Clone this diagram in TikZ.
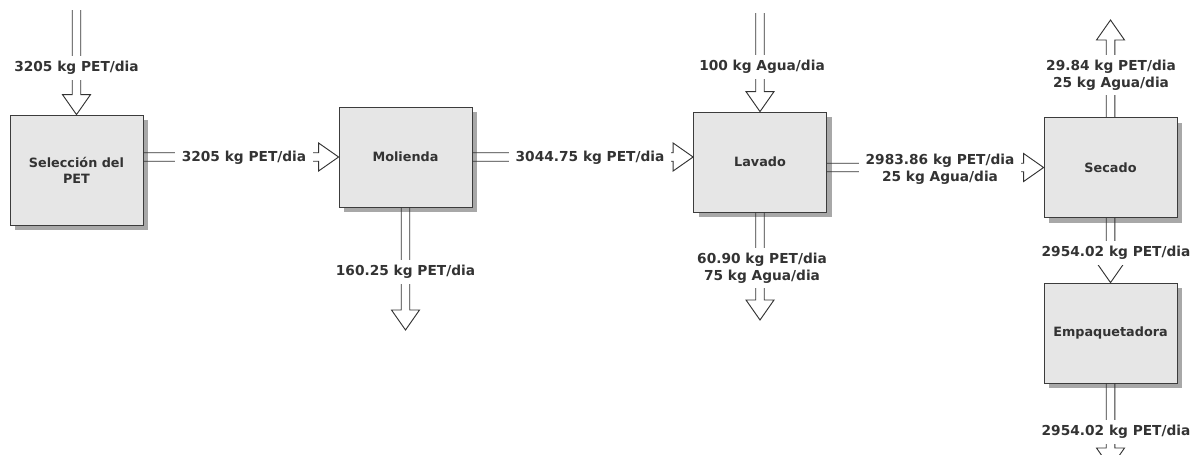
\documentclass[tikz,border=0pt]{standalone}
\usepackage{fontspec}
\setmainfont{DejaVu Sans}
\usetikzlibrary{calc,shadows}
\definecolor{ink}{HTML}{333333}
\definecolor{boxline}{HTML}{3C3C3C}
\definecolor{boxfill}{HTML}{E6E6E6}
\definecolor{shade}{HTML}{A8A8A8}
\tikzset{
  procbox/.style={draw=boxline, line width=0.6pt, fill=boxfill,
    minimum width=99.75pt, minimum height=75pt, inner sep=0pt, align=center,
    font=\fontsize{9.6}{12}\selectfont\bfseries, text=ink,
    drop shadow={shadow xshift=3.75pt, shadow yshift=-3.75pt, fill=shade, opacity=1}},
  flowline/.style={draw=ink, line width=0.7pt, line join=miter},
  flowlabel/.style={fill=white, text=ink, align=center,
    font=\fontsize{10.3}{12.5}\selectfont\bfseries, inner xsep=5pt, inner ysep=4pt},
}
\newcommand\flowarrow[2]{%
  \coordinate (fah) at ($(#2)!15pt!(#1)$);
  \draw[flowline] ($(#1)!3.2pt!90:(#2)$) -- ($(fah)!3.2pt!90:(#2)$) -- ($(fah)!10.5pt!90:(#2)$)
    -- (#2) -- ($(fah)!10.5pt!-90:(#2)$) -- ($(fah)!3.2pt!-90:(#2)$) -- ($(#1)!3.2pt!-90:(#2)$);
}
\begin{document}
\begin{tikzpicture}[x=0.75pt,y=-0.75pt]
\useasboundingbox (0,0) rectangle (1194,454);
% process boxes
\node[procbox, minimum height=82.5pt] (b1) at (76.5,170) {Selección del\\PET};
\node[procbox] (b2) at (405.5,157) {Molienda};
\node[procbox] (b3) at (760,162) {Lavado};
\node[procbox] (b4) at (1110.5,167.5) {Secado};
\node[procbox] (b5) at (1110.5,333) {Empaquetadora};
% free ends
\coordinate (in1) at (76.5,10);
\coordinate (s2) at (b1.east |- b2.west);
\coordinate (out2) at (405.5,330);
\coordinate (e4) at (b3.west |- b2.east);
\coordinate (in3) at (760,13);
\coordinate (out3) at (760,320);
\coordinate (s7) at (b3.east |- b4.west);
\coordinate (out4) at (1110.5,20);
\coordinate (out5) at (1110.5,468);
% flows
\flowarrow{in1}{b1.north}
\flowarrow{s2}{b2.west}
\flowarrow{b2.south}{out2}
\flowarrow{b2.east}{e4}
\flowarrow{in3}{b3.north}
\flowarrow{b3.south}{out3}
\flowarrow{s7}{b4.west}
\flowarrow{b4.north}{out4}
\flowarrow{b4.south}{b5.north}
\flowarrow{b5.south}{out5}
% labels
\node[flowlabel] (l1) at (76.5,68) {3205 kg PET/dia};
\node[flowlabel] (l2) at (244,158) {3205 kg PET/dia};
\node[flowlabel] (l3) at (405.5,272) {160.25 kg PET/dia};
\node[flowlabel] (l4) at (590,158) {3044.75 kg PET/dia};
\node[flowlabel] (l5) at (762,67) {100 kg Agua/dia};
\node[flowlabel] (l6) at (762,268) {60.90 kg PET/dia\\75 kg Agua/dia};
\node[flowlabel] (l7) at (940,169) {2983.86 kg PET/dia\\25 kg Agua/dia};
\node[flowlabel] (l8) at (1111,75) {29.84 kg PET/dia\\25 kg Agua/dia};
\node[flowlabel] (l9) at (1116,253) {2954.02 kg PET/dia};
\node[flowlabel] (l10) at (1116,432) {2954.02 kg PET/dia};
\end{tikzpicture}
\end{document}
